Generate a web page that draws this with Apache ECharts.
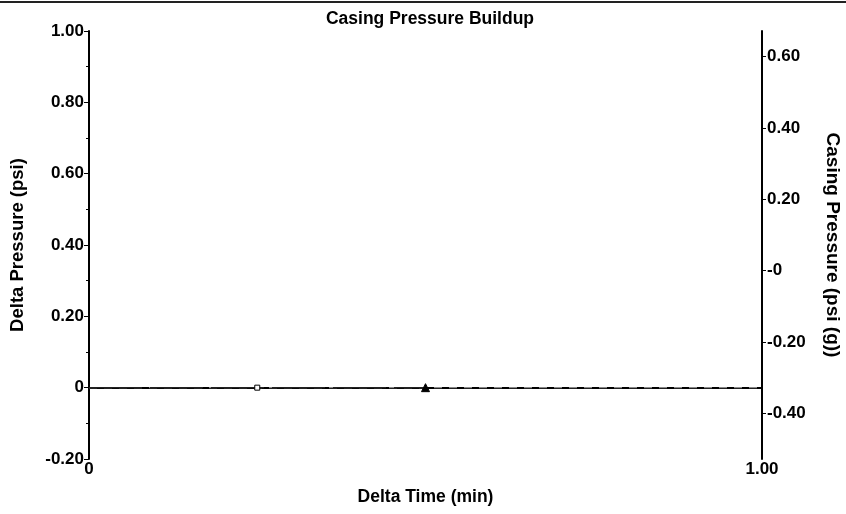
<!DOCTYPE html>
<html>
<head>
<meta charset="utf-8">
<script src="https://cdn.jsdelivr.net/npm/echarts@6/dist/echarts.min.js"></script>
<style>html,body{margin:0;padding:0;background:#fff}#c{width:846px;height:514px}</style>
</head>
<body>
<div id="c"></div>
<script>
const deltaTime = [0, 0.25, 0.5];
const deltaPressure = [0, 0, 0];
const refTime = [0, 1];
const refPressure = [0, 0];
const rightTicks = [-0.4, -0.2, 0, 0.2, 0.4, 0.6];
const rightLabels = ['-0.40', '-0.20', '-0', '0.20', '0.40', '0.60'];
const markerSymbols = ['none', 'rect', 'triangle'];

const font = 'Liberation Sans, Arial, sans-serif';
const chart = echarts.init(document.getElementById('c'));
const lbl = {color: '#000', fontFamily: font, fontWeight: 'bold', fontSize: 17};

chart.setOption({
  animation: false,
  title: {
    text: 'Casing Pressure Buildup', left: 425, top: 5, textAlign: 'center',
    textStyle: {fontFamily: font, fontWeight: 'bold', fontSize: 17.5, color: '#000'}
  },
  graphic: [{type: 'line', shape: {x1: 0, y1: 2, x2: 846, y2: 2}, style: {stroke: '#222', lineWidth: 2}}],
  grid: {left: 89, right: 84, top: 31, bottom: 55, containLabel: false, outerBoundsMode: 'none'},
  xAxis: {
    type: 'value', min: 0, max: 1, interval: 1,
    name: 'Delta Time (min)', nameLocation: 'middle', nameGap: 29,
    nameTextStyle: Object.assign({}, lbl, {fontSize: 17.5}),
    axisLine: {show: true, lineStyle: {color: '#000', width: 2}},
    axisTick: {show: true, length: 5, lineStyle: {color: '#000', width: 1}},
    minorTick: {show: true, splitNumber: 2, length: 2, lineStyle: {color: '#000'}},
    splitLine: {show: false},
    axisLabel: Object.assign({margin: 2, formatter: v => v === 0 ? '0' : v.toFixed(2)}, lbl)
  },
  yAxis: [{
    type: 'value', min: -0.2, max: 1, interval: 0.2, position: 'left',
    name: 'Delta Pressure (psi)', nameLocation: 'middle', nameGap: 62, nameRotate: 90,
    nameTextStyle: Object.assign({}, lbl, {fontSize: 18.5}),
    axisLine: {show: true, lineStyle: {color: '#000', width: 2}},
    axisTick: {show: true, length: 5, lineStyle: {color: '#000'}},
    minorTick: {show: true, splitNumber: 2, length: 3, lineStyle: {color: '#000'}},
    splitLine: {show: false},
    axisLabel: Object.assign({margin: 5, formatter: v => Math.abs(v) < 1e-9 ? '0' : v.toFixed(2)}, lbl)
  }, {
    type: 'value', min: -0.528, max: 0.672, position: 'right',
    name: 'Casing Pressure (psi (g))', nameLocation: 'middle', nameGap: 61, nameRotate: -90,
    nameTextStyle: Object.assign({}, lbl, {fontSize: 19}),
    axisLine: {show: true, lineStyle: {color: '#000', width: 2}},
    axisTick: {show: true, length: 4, customValues: rightTicks, lineStyle: {color: '#000'}},
    splitLine: {show: false},
    axisLabel: Object.assign({margin: 5, customValues: rightTicks,
      formatter: v => rightLabels[rightTicks.findIndex(t => Math.abs(t - v) < 1e-6)]}, lbl)
  }],
  series: [{
    type: 'line', yAxisIndex: 0, symbol: 'none', silent: true,
    data: refTime.map((t, i) => [t, refPressure[i]]),
    lineStyle: {color: '#8a8a8a', width: 1.2, type: [8, 7]}
  }, {
    type: 'line', yAxisIndex: 0, silent: true,
    data: deltaTime.map((t, i) => ({
      value: [t, deltaPressure[i]],
      symbol: markerSymbols[i],
      symbolSize: i === 1 ? 5 : 8,
      itemStyle: i === 1 ? {color: '#fff', borderColor: '#000', borderWidth: 1} : {color: '#000', borderColor: '#000'}
    })),
    lineStyle: {color: '#222', width: 1.3, type: [53, 8]}
  }]
});
</script>
</body>
</html>
